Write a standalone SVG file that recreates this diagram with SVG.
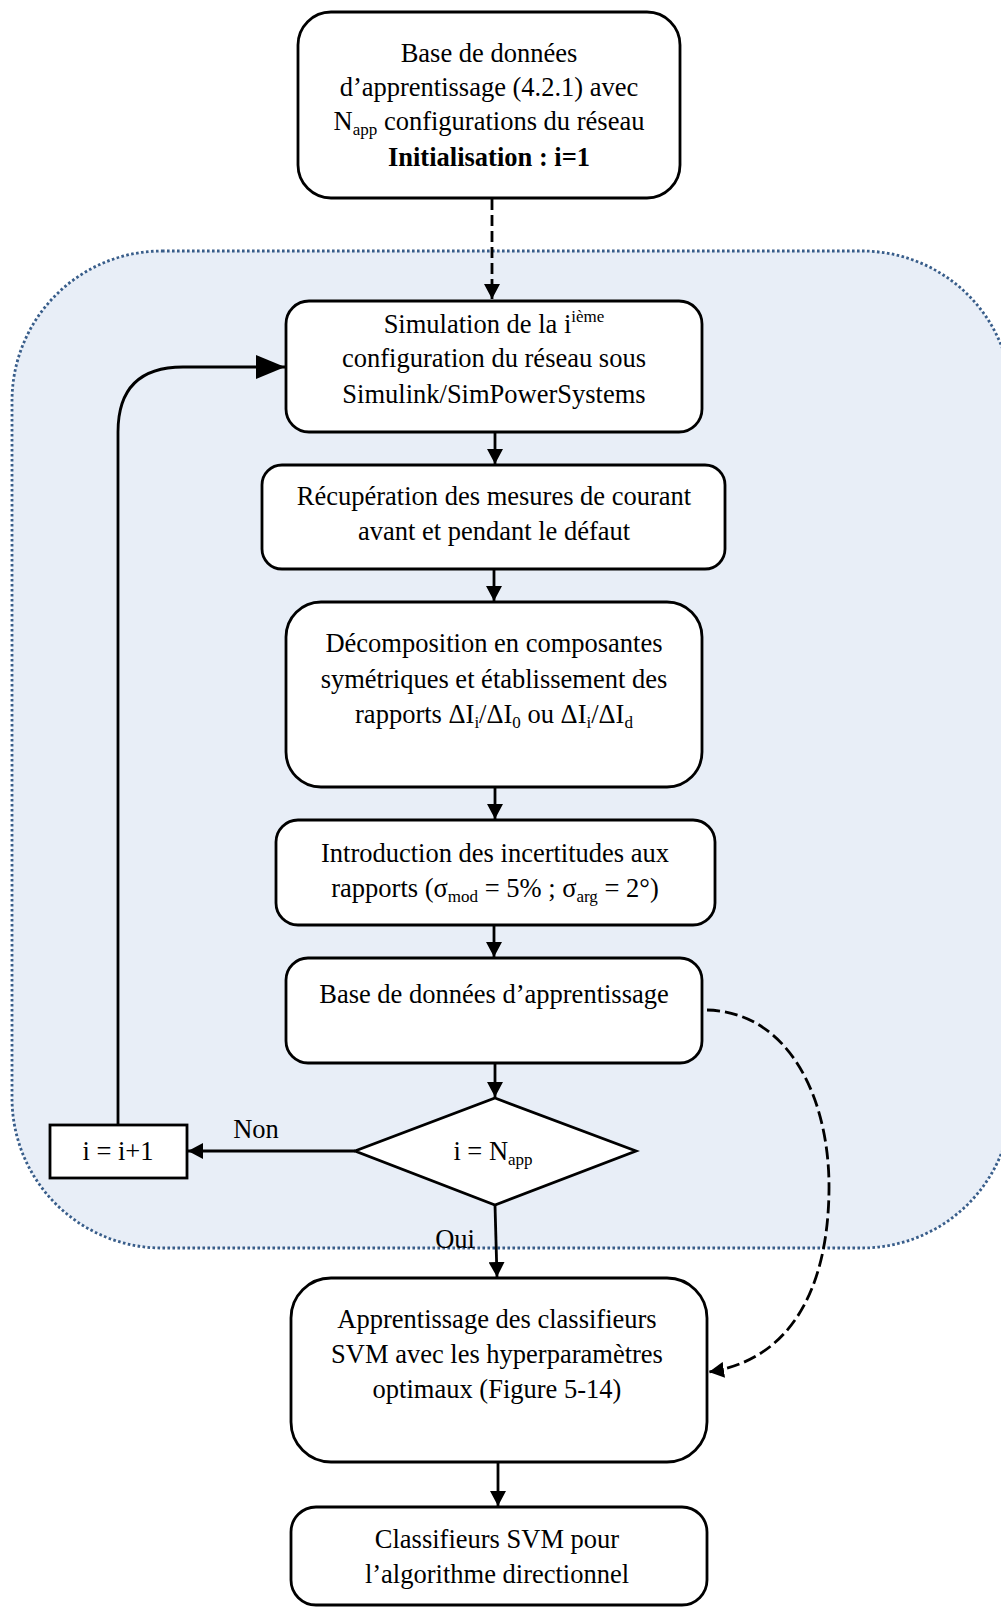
<svg xmlns="http://www.w3.org/2000/svg" width="1001" height="1608" viewBox="0 0 1001 1608">
<style>
.box{fill:#fff;stroke:#000;stroke-width:2.8}
.t{font-family:"Liberation Serif","Times New Roman",serif;font-size:26.5px;fill:#000;text-anchor:middle}
.s{font-size:17px}
.c{fill:none;stroke:#000;stroke-width:2.8}
.b{font-weight:bold}
</style>
<defs>
<marker id="ah" markerUnits="userSpaceOnUse" markerWidth="16" markerHeight="16" viewBox="0 0 16 16" refX="15" refY="8" orient="auto">
<path d="M0,0 L15,8 L0,16 Z" fill="#000"/>
</marker>
<marker id="ahBig" markerUnits="userSpaceOnUse" markerWidth="30" markerHeight="24" viewBox="0 0 30 24" refX="29" refY="12" orient="auto">
<path d="M0,0 L29,12 L0,24 Z" fill="#000"/>
</marker>
</defs>

<g id="loop-region">
<rect x="12" y="251" width="1000" height="997" rx="150" ry="150" fill="#E8EEF7" stroke="#385D8A" stroke-width="2.8" stroke-dasharray="2.6 2.4"/>
</g>

<g id="connectors">
<line class="c" x1="492" y1="199" x2="492" y2="299" stroke-width="3" stroke-dasharray="11 5" marker-end="url(#ah)"/>
<path class="c" d="M118,1125 L118,432 Q118,367 183,367 L285,367" stroke-width="3" marker-end="url(#ahBig)"/>
<line class="c" x1="495" y1="432" x2="495" y2="464" marker-end="url(#ah)"/>
<line class="c" x1="494" y1="569" x2="494" y2="601" marker-end="url(#ah)"/>
<line class="c" x1="495" y1="787" x2="495" y2="819" marker-end="url(#ah)"/>
<line class="c" x1="494" y1="925" x2="494" y2="957" marker-end="url(#ah)"/>
<line class="c" x1="495" y1="1063" x2="495" y2="1097" marker-end="url(#ah)"/>
<line class="c" x1="355" y1="1151" x2="188" y2="1151" marker-end="url(#ah)"/>
<line class="c" x1="495" y1="1205" x2="497" y2="1277" marker-end="url(#ah)"/>
<line class="c" x1="498" y1="1462" x2="498" y2="1506" marker-end="url(#ah)"/>
<path class="c" d="M707,1010 C790,1012 830,1100 829,1190 C828,1290 790,1360 709,1372" stroke-width="3.4" stroke-dasharray="13 5" marker-end="url(#ah)"/>
<text class="t" x="256" y="1138">Non</text>
<text class="t" x="455" y="1248">Oui</text>
</g>

<g id="n-init">
<rect class="box" x="298" y="12" width="382" height="186" rx="33"/>
<text class="t" x="489" y="62">Base de données</text>
<text class="t" x="489" y="96">d’apprentissage (4.2.1) avec</text>
<text class="t" x="489" y="130">N<tspan class="s" dy="5">app</tspan><tspan dy="-5"> configurations du réseau</tspan></text>
<text class="t b" x="489" y="166">Initialisation : i=1</text>
</g>

<g id="n-simulation">
<rect class="box" x="286" y="301" width="416" height="131" rx="23"/>
<text class="t" x="494" y="333">Simulation de la i<tspan class="s" dy="-11">ième</tspan></text>
<text class="t" x="494" y="367">configuration du réseau sous</text>
<text class="t" x="494" y="403">Simulink/SimPowerSystems</text>
</g>

<g id="n-recuperation">
<rect class="box" x="262" y="465" width="463" height="104" rx="20"/>
<text class="t" x="494" y="505">Récupération des mesures de courant</text>
<text class="t" x="494" y="540">avant et pendant le défaut</text>
</g>

<g id="n-decomposition">
<rect class="box" x="286" y="602" width="416" height="185" rx="35"/>
<text class="t" x="494" y="652">Décomposition en composantes</text>
<text class="t" x="494" y="688">symétriques et établissement des</text>
<text class="t" x="494" y="723">rapports ΔI<tspan class="s" dy="5">i</tspan><tspan dy="-5">/ΔI</tspan><tspan class="s" dy="5">0</tspan><tspan dy="-5"> ou ΔI</tspan><tspan class="s" dy="5">i</tspan><tspan dy="-5">/ΔI</tspan><tspan class="s" dy="5">d</tspan></text>
</g>

<g id="n-introduction">
<rect class="box" x="276" y="820" width="439" height="105" rx="22"/>
<text class="t" x="495" y="862">Introduction des incertitudes aux</text>
<text class="t" x="495" y="897">rapports (σ<tspan class="s" dy="5">mod</tspan><tspan dy="-5"> = 5% ; σ</tspan><tspan class="s" dy="5">arg</tspan><tspan dy="-5"> = 2°)</tspan></text>
</g>

<g id="n-base">
<rect class="box" x="286" y="958" width="416" height="105" rx="22"/>
<text class="t" x="494" y="1003">Base de données d’apprentissage</text>
</g>

<g id="n-decision">
<polygon class="box" points="495,1098 636,1151 495,1205 355,1151"/>
<text class="t" x="493" y="1160">i = N<tspan class="s" dy="5">app</tspan></text>
</g>

<g id="n-increment">
<rect class="box" x="50" y="1125" width="137" height="53"/>
<text class="t" x="118" y="1160">i = i+1</text>
</g>

<g id="n-svm-training">
<rect class="box" x="291" y="1278" width="416" height="184" rx="40"/>
<text class="t" x="497" y="1328">Apprentissage des classifieurs</text>
<text class="t" x="497" y="1363">SVM avec les hyperparamètres</text>
<text class="t" x="497" y="1398">optimaux (Figure 5-14)</text>
</g>

<g id="n-svm-result">
<rect class="box" x="291" y="1507" width="416" height="98" rx="25"/>
<text class="t" x="497" y="1548">Classifieurs SVM pour</text>
<text class="t" x="497" y="1583">l’algorithme directionnel</text>
</g>
</svg>
